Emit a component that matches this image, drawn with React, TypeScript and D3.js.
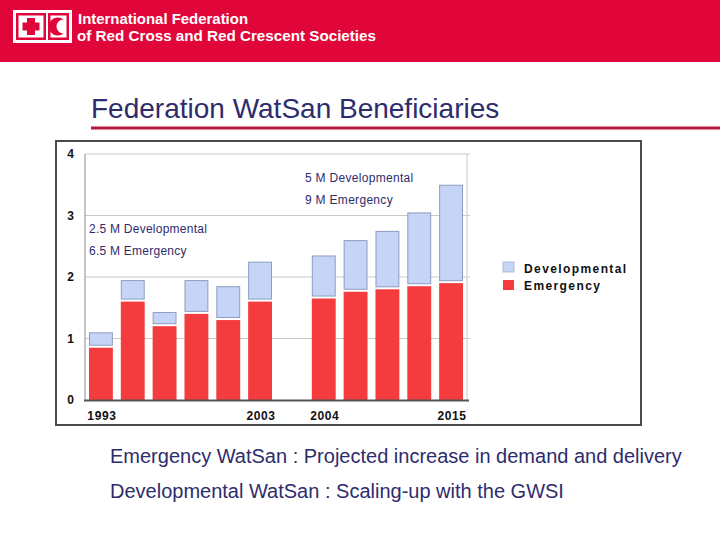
import React from "react";
import * as d3 from "d3";

const categories = ["1993", "c2", "c3", "c4", "c5", "2003", "gap", "2004", "c9", "c10", "c11", "2015"];
const tickLabels = ["1993", "", "", "", "", "2003", "", "2004", "", "", "", "2015"];
const emergency: (number | null)[] = [0.85, 1.6, 1.2, 1.4, 1.3, 1.6, null, 1.65, 1.76, 1.8, 1.85, 1.9];
const developmental: (number | null)[] = [0.25, 0.35, 0.23, 0.55, 0.55, 0.65, null, 0.7, 0.84, 0.95, 1.2, 1.6];
const yTicks = [0, 1, 2, 3, 4];
const legendItems = ["Developmental", "Emergency"];
const annotations = [
  ["2.5 M Developmental", "6.5 M Emergency"],
  ["5 M Developmental", "9 M Emergency"],
];
const headerLines = ["International Federation", "of Red Cross and Red Crescent Societies"];
const title = "Federation WatSan Beneficiaries";
const bottomLines = [
  "Emergency WatSan : Projected increase in demand and delivery",
  "Developmental WatSan : Scaling-up with the GWSI",
];

const RED_HEADER = "#e1063a";
const NAVY = "#2e2c6c";
const BAR_RED = "#f43b3d";
const BAR_BLUE = "#c6d5f7";
const BLUE_STROKE = "#8d9dbf";
const FONT = "'Liberation Sans', Arial, sans-serif";

export default function App() {
  const W = 720, H = 540;
  const plot = { left: 85, right: 467, top: 154, bottom: 400 };
  const x = d3.scaleBand<string>().domain(categories).range([plot.left, plot.right]).paddingInner(0.25).paddingOuter(0.125);
  const y = d3.scaleLinear().domain([0, 4]).range([plot.bottom, plot.top]);

  return (
    <svg width={W} height={H} style={{ position: "absolute", left: 0, top: 0 }} fontFamily={FONT}>
      <rect x={0} y={0} width={W} height={H} fill="#fff" />
      {/* Header */}
      <rect x={0} y={0} width={W} height={62} fill={RED_HEADER} />
      <g>
        <rect x={13} y={10} width={59} height={33} fill="#fff" />
        <rect x={16} y={13} width={30} height={27} fill={RED_HEADER} />
        <rect x={48} y={13} width={21} height={27} fill={RED_HEADER} />
        <rect x={18.5} y={15.5} width={25} height={22} fill="#fff" />
        <rect x={50.5} y={15.5} width={16} height={22} fill="#fff" />
        <rect x={27} y={18} width={8} height={17} fill={RED_HEADER} />
        <rect x={22.5} y={22.5} width={17} height={8} fill={RED_HEADER} />
        <path d="M63.5,19.5 A9,9 0 1 0 63.5,33.5 A7,7 0 1 1 63.5,19.5 Z" fill={RED_HEADER} />
      </g>
      <text x={78} y={24} fill="#fff" fontSize={15} fontWeight="bold" textLength={170} lengthAdjust="spacingAndGlyphs">{headerLines[0]}</text>
      <text x={77} y={41} fill="#fff" fontSize={15} fontWeight="bold" textLength={299} lengthAdjust="spacingAndGlyphs">{headerLines[1]}</text>

      {/* Title */}
      <text x={91} y={118} fill={NAVY} fontSize={28}>{title}</text>
      <rect x={91} y={126.5} width={W - 91} height={3} fill="#b5173f" />

      {/* Chart frame */}
      <rect x={56} y={141} width={585} height={284} fill="#fff" stroke="#4a4a4a" strokeWidth={2} />

      {/* Grid */}
      {yTicks.filter(t => t > 0).map(t => (
        <line key={t} x1={plot.left} x2={plot.right + 3} y1={y(t)} y2={y(t)} stroke="#c9c9c9" strokeWidth={1} />
      ))}
      <line x1={plot.right} x2={plot.right} y1={y(4)} y2={plot.bottom} stroke="#c9c9c9" strokeWidth={1} />
      <line x1={plot.left} x2={plot.left} y1={y(4)} y2={plot.bottom} stroke="#8a8a8a" strokeWidth={1} />

      {/* Bars */}
      {categories.map((c, i) => {
        const e = emergency[i];
        const d = developmental[i];
        if (e == null || d == null) return null;
        const bx = x(c)!;
        const bw = x.bandwidth();
        const yE = y(e);
        const yT = y(e + d);
        return (
          <g key={c}>
            <rect x={bx} y={yE} width={bw} height={plot.bottom - yE} fill={BAR_RED} />
            <rect x={bx + 0.5} y={yT + 0.5} width={bw - 1} height={Math.max(0, yE - yT - 3)} fill={BAR_BLUE} stroke={BLUE_STROKE} strokeWidth={1} />
          </g>
        );
      })}
      <line x1={plot.left - 1} x2={plot.right + 2} y1={plot.bottom + 0.5} y2={plot.bottom + 0.5} stroke="#555" strokeWidth={2} />

      {/* Y labels */}
      {yTicks.map(t => (
        <text key={t} x={74} y={y(t) + 4} textAnchor="end" fontSize={12} fontWeight="bold" fill="#111">{t}</text>
      ))}
      {/* X labels */}
      {categories.map((c, i) => tickLabels[i] ? (
        <text key={c} x={x(c)! + x.bandwidth() / 2 + 1} y={420} textAnchor="middle" fontSize={12} fontWeight="bold" letterSpacing={0.6} fill="#111">{tickLabels[i]}</text>
      ) : null)}

      {/* Annotations */}
      <text x={89} y={233} fontSize={12} fill={NAVY} letterSpacing={0.25}>{annotations[0][0]}</text>
      <text x={89} y={255} fontSize={12} fill={NAVY} letterSpacing={0.25}>{annotations[0][1]}</text>
      <text x={305} y={182} fontSize={12} fill={NAVY} letterSpacing={0.3}>{annotations[1][0]}</text>
      <text x={305} y={204} fontSize={12} fill={NAVY} letterSpacing={0.3}>{annotations[1][1]}</text>

      {/* Legend */}
      {legendItems.map((l, i) => (
        <g key={l}>
          <rect x={503} y={262 + i * 18} width={11} height={10} fill={i === 0 ? BAR_BLUE : BAR_RED} stroke={i === 0 ? "#9fb0d0" : "none"} strokeWidth={0.8} />
          <text x={524} y={273 + i * 17} fontSize={12} fontWeight="bold" letterSpacing={1.4} fill="#111">{l}</text>
        </g>
      ))}

      {/* Bottom text */}
      <text x={110} y={463} fontSize={20} fill={NAVY}>{bottomLines[0]}</text>
      <text x={110} y={498} fontSize={20} fill={NAVY}>{bottomLines[1]}</text>
    </svg>
  );
}
